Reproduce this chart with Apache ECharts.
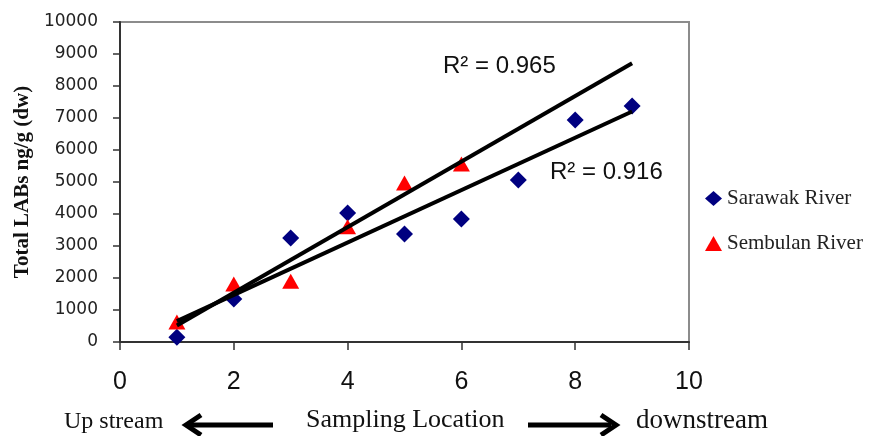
<!DOCTYPE html>
<html><head><meta charset="utf-8">
<script src="https://cdn.jsdelivr.net/npm/echarts@6/dist/echarts.min.js"></script>
<style>html,body{margin:0;padding:0;background:#fff}#c{width:869px;height:436px}</style>
</head><body><div id="c"></div>
<script>
const sarawakX = [1,2,3,4,5,6,7,8,9];
const sarawakY = [150,1340,3250,4030,3375,3840,5060,6940,7375];
const sembulanX = [1,2,3,4,5,6];
const sembulanY = [625,1810,1900,3600,4970,5560];
const trendRange = [1, 9];
const r2Labels = ['R\u00b2 = 0.965', 'R\u00b2 = 0.916'];

function fit(xs, ys) {
  const n = xs.length;
  const mx = xs.reduce((a,b)=>a+b,0)/n, my = ys.reduce((a,b)=>a+b,0)/n;
  let sxy=0, sxx=0;
  for (let i=0;i<n;i++){ sxy+=(xs[i]-mx)*(ys[i]-my); sxx+=(xs[i]-mx)*(xs[i]-mx); }
  const b = sxy/sxx, a = my-b*mx;
  return trendRange.map(x => [x, a+b*x]);
}

const chart = echarts.init(document.getElementById('c'));
const serif = 'Liberation Serif';
chart.setOption({
  animation: false,
  grid: {left:120, right:180, top:22, bottom:94, show:true, borderColor:'#8c8c8c', borderWidth:2},
  xAxis: {
    type:'value', min:0, max:10, interval:2,
    axisLine:{show:true, lineStyle:{color:'#333', width:2}},
    axisTick:{show:true, length:8, lineStyle:{color:'#333', width:1.5}},
    splitLine:{show:false},
    axisLabel:{fontFamily:'Liberation Sans', fontSize:25, color:'#111', margin:28}
  },
  yAxis: {
    type:'value', min:0, max:10000, interval:1000,
    name:'Total LABs ng/g (dw)', nameLocation:'middle', nameGap:86, nameRotate:90,
    nameTextStyle:{fontFamily:serif, fontWeight:'bold', fontSize:21, color:'#111'},
    axisLine:{show:true, lineStyle:{color:'#333', width:2}},
    axisTick:{show:true, length:7, lineStyle:{color:'#333', width:1.5}},
    splitLine:{show:false},
    axisLabel:{fontFamily:'DejaVu Sans', fontSize:17, color:'#222', margin:22,
      formatter: v => String(v)}
  },
  legend: {
    orient:'vertical', left:700, top:183, itemGap:24, itemWidth:17, itemHeight:15,
    textStyle:{fontFamily:serif, fontSize:21, color:'#222'},
    data:[{name:'Sarawak River', icon:'diamond'},{name:'Sembulan River', icon:'triangle'}]
  },
  series: [
    {name:'trendSembulan', type:'line', data:fit(sembulanX, sembulanY), symbol:'none',
     lineStyle:{color:'#000', width:4}, z:3},
    {name:'trendSarawak', type:'line', data:fit(sarawakX, sarawakY), symbol:'none',
     lineStyle:{color:'#000', width:4}, z:3},
    {name:'Sarawak River', type:'scatter', symbol:'diamond', symbolSize:[17,17],
     itemStyle:{color:'#000080', opacity:1}, data:sarawakX.map((x,i)=>[x, sarawakY[i]]), z:2},
    {name:'Sembulan River', type:'scatter', symbol:'triangle', symbolSize:[17,15],
     itemStyle:{color:'#ff0000', opacity:1}, data:sembulanX.map((x,i)=>[x, sembulanY[i]]), z:2}
  ],
  graphic: [
    {type:'text', left:443, top:54, style:{text:r2Labels[0], font:'24px "Liberation Sans"', fill:'#111'}},
    {type:'text', left:550, top:160, style:{text:r2Labels[1], font:'24px "Liberation Sans"', fill:'#111'}},
    {type:'text', left:64, top:410, style:{text:'Up stream', font:'24px "Liberation Serif"', fill:'#111'}},
    {type:'text', left:306, top:407, style:{text:'Sampling Location', font:'26px "Liberation Serif"', fill:'#111'}},
    {type:'text', left:636, top:407, style:{text:'downstream', font:'27px "Liberation Serif"', fill:'#111'}},
    {type:'line', shape:{x1:190, y1:425, x2:273, y2:425}, style:{stroke:'#000', lineWidth:5}},
    {type:'polyline', shape:{points:[[201,415],[186,425],[201,435]]}, style:{stroke:'#000', lineWidth:5, fill:null}},
    {type:'line', shape:{x1:528, y1:425, x2:611, y2:425}, style:{stroke:'#000', lineWidth:5}},
    {type:'polyline', shape:{points:[[601,415],[616,425],[601,435]]}, style:{stroke:'#000', lineWidth:5, fill:null}}
  ]
});
</script></body></html>
